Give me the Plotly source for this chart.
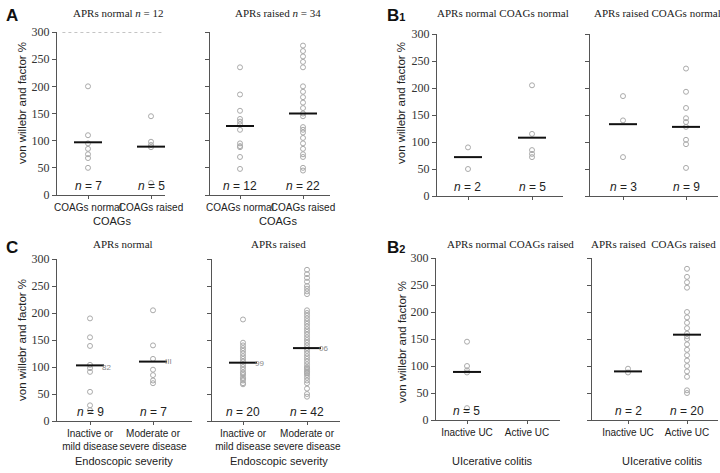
import plotly.graph_objects as go

W, H = 720, 473

# ---------------- data ----------------
# Panel A
a_norm_coag_norm = [200, 110, 95, 85, 75, 68, 50]
a_norm_coag_raised = [145, 98, 92, 88, 22]
a_raised_coag_norm = [235, 185, 155, 140, 135, 130, 120, 95, 90, 88, 70, 48]
a_raised_coag_raised = [275, 265, 255, 245, 235, 200, 190, 180, 170, 160, 150, 145,
                        125, 120, 115, 105, 95, 85, 75, 70, 50, 45]
a_medians = [[97, 89], [127, 150]]
a_n = [["7", "5"], ["12", "22"]]

# Panel B1
b1_norm = [[90, 50], [205, 115, 85, 78, 72]]
b1_raised = [[185, 140, 72], [236, 193, 163, 144, 137, 128, 104, 96, 52]]
b1_medians = [[72, 108], [133, 128]]
b1_n = [["2", "5"], ["3", "9"]]

# Panel C
c_norm = [[190, 155, 139, 104, 98, 91, 54, 29, 20],
          [205, 140, 115, 95, 85, 75, 70]]
c_raised = [[188, 145, 140, 135, 130, 125, 120, 115, 110, 105, 100, 95, 90, 88, 85,
             80, 78, 75, 70, 68],
            [280, 272, 265, 258, 250, 245, 240, 235, 205, 200, 195, 190, 185, 180, 175,
             170, 165, 160, 155, 150, 145, 140, 135, 130, 125, 120, 115, 110, 105, 100,
             98, 95, 92, 90, 88, 85, 80, 75, 70, 60, 50, 45]]
c_medians = [[103, 110], [108, 135]]
c_n = [["9", "7"], ["20", "42"]]
c_side_labels = [[("82", 100), ("III", 110)], [("99", 107), ("06", 135)]]

# Panel B2
b2_norm = [[145, 100, 92, 88, 22], []]
b2_raised = [[95, 88],
             [280, 265, 255, 245, 200, 190, 180, 170, 160, 155, 150, 140, 130, 120, 110,
              100, 90, 80, 55, 50]]
b2_medians = [[89, None], [90, 158]]
b2_n = [["5", None], ["2", "20"]]

y_ticks = [0, 50, 100, 150, 200, 250, 300]
cat_a = ["COAGs normal", "COAGs raised"]
cat_c = ["Inactive or<br>mild disease", "Moderate or<br>severe disease"]
cat_b2 = ["Inactive UC", "Active UC"]

# ---------------- layout geometry (pixels) ----------------
# (axis_left_px, cat0_px, cat1_px, right_px, y300_px, y0_px)
panels = [
    (57, 88, 151, 165, 32, 195),
    (210, 240, 303, 330, 32, 195),
    (437, 468, 532, 563, 34, 196),
    (590, 623, 686, 718, 34, 196),
    (57, 90, 153, 192, 259, 421),
    (212, 243, 307, 340, 259, 421),
    (436, 467, 527, 560, 258, 420),
    (592, 628, 687, 718, 258, 420),
]

groups = [
    ([a_norm_coag_norm, a_norm_coag_raised], a_medians[0], a_n[0]),
    ([a_raised_coag_norm, a_raised_coag_raised], a_medians[1], a_n[1]),
    (b1_norm, b1_medians[0], b1_n[0]),
    (b1_raised, b1_medians[1], b1_n[1]),
    (c_norm, c_medians[0], c_n[0]),
    (c_raised, c_medians[1], c_n[1]),
    (b2_norm, b2_medians[0], b2_n[0]),
    (b2_raised, b2_medians[1], b2_n[1]),
]
ticktexts = [cat_a, cat_a, ["", ""], ["", ""], cat_c, cat_c, cat_b2, cat_b2]

fig = go.Figure()
layout = dict(width=W, height=H, margin=dict(l=0, r=0, t=0, b=0),
              paper_bgcolor="white", plot_bgcolor="white", showlegend=False)
annotations = []
shapes = []

axis_col = "#555555"
for i, (geo, grp, tt) in enumerate(zip(panels, groups, ticktexts)):
    ax_l, c0, c1, r, y300, y0 = geo
    k = "" if i == 0 else str(i + 1)
    xa, ya = "x" + k, "y" + k
    unit = (c1 - c0)
    xr = [(ax_l - c0) / unit, (r - c0) / unit]
    layout["xaxis" + k] = dict(
        domain=[ax_l / W, r / W], range=xr, anchor=ya,
        showline=True, linecolor=axis_col, linewidth=1, showgrid=False, zeroline=False,
        tickvals=[0, 1], ticktext=tt, ticks="outside", ticklen=3, tickcolor=axis_col,
        tickangle=0, automargin=False,
        tickfont=dict(family="Liberation Sans", size=10, color="#222"),
        fixedrange=True)
    layout["yaxis" + k] = dict(
        domain=[1 - y0 / H, 1 - y300 / H], range=[0, 300], anchor=xa,
        showline=True, linecolor=axis_col, linewidth=1, showgrid=False, zeroline=False,
        tickvals=y_ticks, ticks="outside", ticklen=4, tickcolor=axis_col,
        showticklabels=(i % 2 == 0), automargin=False,
        tickfont=dict(family="Liberation Serif", size=12, color="#333"),
        fixedrange=True)
    vals, meds, ns = grp
    for j in range(2):
        v = vals[j]
        if v:
            fig.add_trace(go.Scatter(
                x=[j] * len(v), y=v, mode="markers", xaxis=xa, yaxis=ya,
                marker=dict(symbol="circle-open", size=5, color="#aaaaaa",
                            line=dict(width=1, color="#aaaaaa"))))
        if meds[j] is not None:
            fig.add_trace(go.Scatter(
                x=[j], y=[meds[j]], mode="markers", xaxis=xa, yaxis=ya,
                marker=dict(symbol="line-ew", size=20,
                            line=dict(width=2, color="#111"))))
        if ns[j] is not None:
            annotations.append(dict(
                x=j, y=0, xref=xa, yref=ya, yanchor="bottom", yshift=0,
                text="<i>n</i> = " + ns[j], showarrow=False,
                font=dict(family="Liberation Sans", size=12, color="#222")))

# side labels in panel C
for p, labs in zip([4, 5], c_side_labels):
    k = str(p + 1)
    for j, (t, yv) in enumerate(labs):
        annotations.append(dict(x=j + 0.16, y=yv, xref="x" + k, yref="y" + k,
                                text=t, showarrow=False, xanchor="left",
                                font=dict(family="Liberation Sans", size=8, color="#888")))

# dashed grey line at 300 in panel A left
shapes.append(dict(type="line", xref="x domain", yref="y", x0=0.05, x1=0.97,
                   y0=300, y1=300, line=dict(color="#c4c4c4", width=2, dash="dot")))

def ann(x, y, text, size=12, family="Liberation Serif", angle=0, bold=False,
        color="#222"):
    if bold:
        text = "<b>" + text + "</b>"
    annotations.append(dict(x=x / W, y=1 - y / H, xref="paper", yref="paper",
                            text=text, showarrow=False, textangle=angle,
                            xanchor="center", yanchor="middle",
                            font=dict(family=family, size=size, color=color)))

# Titles
ann(118, 13, "APRs normal <i>n</i> = 12", size=11)
ann(278, 13, "APRs raised <i>n</i> = 34", size=11)
ann(503, 13, "APRs normal COAGs normal", size=11)
ann(657, 13, "APRs raised COAGs normal", size=11)
ann(123, 244, "APRs normal", size=11)
ann(278, 244, "APRs raised", size=11)
ann(510, 244, "APRs normal COAGs raised", size=11)
ann(653, 244, "APRs raised  COAGs raised", size=11)

# Panel letters
ann(12, 15, "A", size=17, family="Liberation Sans", bold=True, color="#111")
ann(396, 15, "B<span style='font-size:11px'>1</span>", size=17,
    family="Liberation Sans", bold=True, color="#111")
ann(12, 247, "C", size=17, family="Liberation Sans", bold=True, color="#111")
ann(396, 247, "B<span style='font-size:11px'>2</span>", size=17,
    family="Liberation Sans", bold=True, color="#111")

# Y titles
yt = "von willebr and factor %"
for x, y in [(22, 103), (401, 103), (22, 340), (402, 342)]:
    ann(x, y, yt, size=11.5, family="Liberation Sans", angle=-90)

# X titles
ann(112, 221, "COAGs", size=11, family="Liberation Sans")
ann(278, 221, "COAGs", size=11, family="Liberation Sans")
ann(124, 461, "Endoscopic severity", size=11, family="Liberation Sans")
ann(279, 461, "Endoscopic severity", size=11, family="Liberation Sans")
ann(492, 461, "UIcerative colitis", size=11, family="Liberation Sans")
ann(662, 461, "UIcerative colitis", size=11, family="Liberation Sans")

layout["annotations"] = annotations
layout["shapes"] = shapes
fig.update_layout(**layout)
fig.write_html("out.html", config={"displayModeBar": False},
               post_script="document.body.style.margin='0';document.body.style.padding='0';")
